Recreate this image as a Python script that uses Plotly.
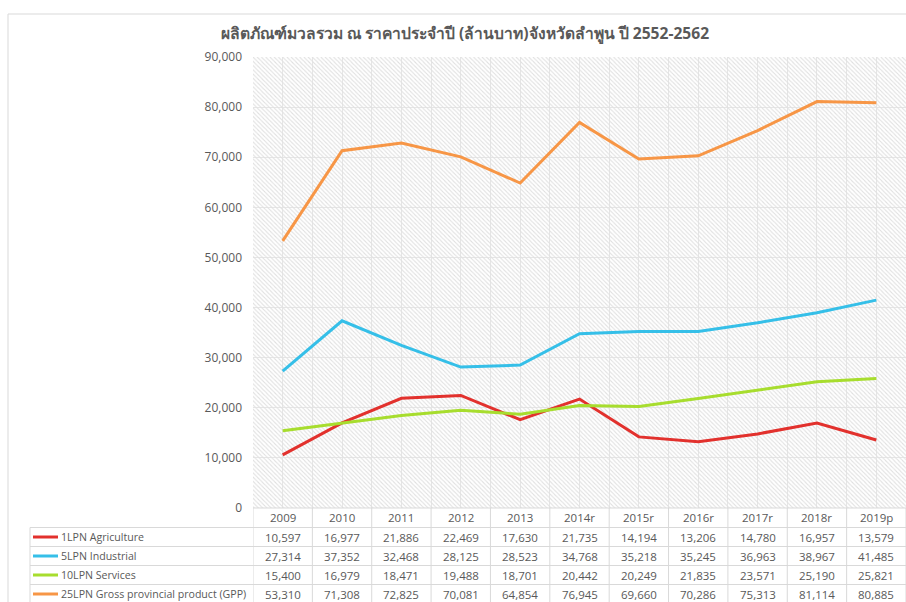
import plotly.graph_objects as go

TITLE = "ผลิตภัณฑ์มวลรวม ณ ราคาประจำปี (ล้านบาท)จังหวัดลำพูน ปี 2552-2562"
categories = ["2009", "2010", "2011", "2012", "2013", "2014r", "2015r", "2016r", "2017r", "2018r", "2019p"]
series_names = ["1LPN Agriculture", "5LPN Industrial", "10LPN Services", "25LPN Gross provincial product (GPP)"]
agriculture = [10597, 16977, 21886, 22469, 17630, 21735, 14194, 13206, 14780, 16957, 13579]
industrial = [27314, 37352, 32468, 28125, 28523, 34768, 35218, 35245, 36963, 38967, 41485]
services = [15400, 16979, 18471, 19488, 18701, 20442, 20249, 21835, 23571, 25190, 25821]
gpp = [53310, 71308, 72825, 70081, 64854, 76945, 69660, 70286, 75313, 81114, 80885]
y_ticks = [0, 10000, 20000, 30000, 40000, 50000, 60000, 70000, 80000, 90000]

series_values = [agriculture, industrial, services, gpp]
colors = ["#e2312d", "#35bfe8", "#a7dd2e", "#f79646"]

W, H = 906, 602
PL, PT, PB, PR = 253, 57, 508, 906   # plot area in page pixels
FONT = "Open Sans, Noto Sans, DejaVu Sans, sans-serif"
TXT = "#595959"
GRID = "#d9d9d9"

xs = list(range(len(categories)))
ymax = y_ticks[-1]

def py(p):
    return (PB - p) / (PB - PT)

def px(p):
    return (p - PL) / (PR - PL)

fig = go.Figure()

# hatched plot background
fig.add_trace(go.Bar(
    x=xs, y=[ymax] * len(categories), width=1,
    marker=dict(color="rgba(0,0,0,0)", line=dict(width=0),
                pattern=dict(shape="\\", fgcolor="#e0e0e0", bgcolor="rgba(0,0,0,0)",
                             size=3, solidity=0.35, fillmode="replace")),
    hoverinfo="skip", showlegend=False))

for name, vals, c in zip(series_names, series_values, colors):
    fig.add_trace(go.Scatter(x=xs, y=vals, mode="lines", name=name,
                             line=dict(color=c, width=3), showlegend=False))

shapes = []
ann = []
TF = dict(family=FONT, size=11.5, color=TXT)

# header row (years)
row_h = 19
header_top = PB
header_bot = header_top + 19.5
for i, cat in enumerate(categories):
    ann.append(dict(x=i, y=py((header_top + header_bot) / 2), xref="x", yref="paper",
                    xanchor="center", yanchor="middle",
                    text=cat, showarrow=False, font=TF))

row_tops = [header_bot + k * row_h for k in range(len(series_names) + 1)]
for k, (name, vals, c) in enumerate(zip(series_names, series_values, colors)):
    yc = py(row_tops[k] + row_h / 2)
    for i, v in enumerate(vals):
        ann.append(dict(x=i, y=yc, xref="x", yref="paper", text=f"{v:,}", showarrow=False,
                        xanchor="center", yanchor="middle", font=TF))
    shapes.append(dict(type="line", xref="paper", yref="paper", x0=px(33), x1=px(58),
                       y0=yc, y1=yc, line=dict(color=c, width=3)))
    ann.append(dict(x=px(59), y=yc, xref="paper", yref="paper", text=name, showarrow=False,
                    xanchor="left", yanchor="middle",
                    font=dict(family=FONT, size=10.6, color=TXT)))

# table grid lines
shapes.append(dict(type="line", xref="paper", yref="paper", x0=0, x1=1.01,
                   y0=py(header_top), y1=py(header_top), line=dict(color=GRID, width=1)))
for r in row_tops:
    shapes.append(dict(type="line", xref="paper", yref="paper", x0=px(30), x1=1.01,
                       y0=py(r), y1=py(r), line=dict(color=GRID, width=1)))
for i in range(len(categories) + 1):
    shapes.append(dict(type="line", xref="x", yref="paper", x0=i - 0.5, x1=i - 0.5,
                       y0=py(header_top), y1=py(615), line=dict(color=GRID, width=1)))
shapes.append(dict(type="line", xref="paper", yref="paper", x0=px(30), x1=px(30),
                   y0=py(row_tops[0]), y1=py(615), line=dict(color=GRID, width=1)))

# outer chart border
shapes.append(dict(type="line", xref="paper", yref="paper", x0=px(8), x1=px(8),
                   y0=py(14), y1=py(615), line=dict(color=GRID, width=1)))
shapes.append(dict(type="line", xref="paper", yref="paper", x0=px(8), x1=1.01,
                   y0=py(14), y1=py(14), line=dict(color=GRID, width=1)))

fig.update_layout(
    width=W, height=H,
    margin=dict(l=PL, r=W - PR, t=PT, b=H - PB, pad=0),
    paper_bgcolor="white", plot_bgcolor="white",
    title=dict(text=f"<b>{TITLE}</b>", x=465 / W, xref="container", xanchor="center",
               y=1 - 34 / H, yref="container", yanchor="middle",
               font=dict(family=FONT, size=15.6, color=TXT)),
    xaxis=dict(range=[-0.5, len(categories) - 0.5], showticklabels=False, dtick=0.5,
               tick0=-0.5, showgrid=True, gridcolor="#e6e6e6", gridwidth=1,
               zeroline=False, showline=False, ticks=""),
    yaxis=dict(range=[0, ymax], tickvals=y_ticks, tickformat=",", showgrid=True,
               gridcolor="#e6e6e6", gridwidth=1, zeroline=False, showline=False,
               ticks="", ticklabelstandoff=10,
               tickfont=dict(family=FONT, size=12, color=TXT)),
    bargap=0,
    shapes=shapes, annotations=ann,
    showlegend=False,
)

fig.write_html(
    "out.html",
    config={"displayModeBar": False},
    post_script=(
        "document.documentElement.style.overflow='hidden';"
        "document.body.style.margin='0';"
        "document.body.style.overflow='hidden';"
    ),
)
